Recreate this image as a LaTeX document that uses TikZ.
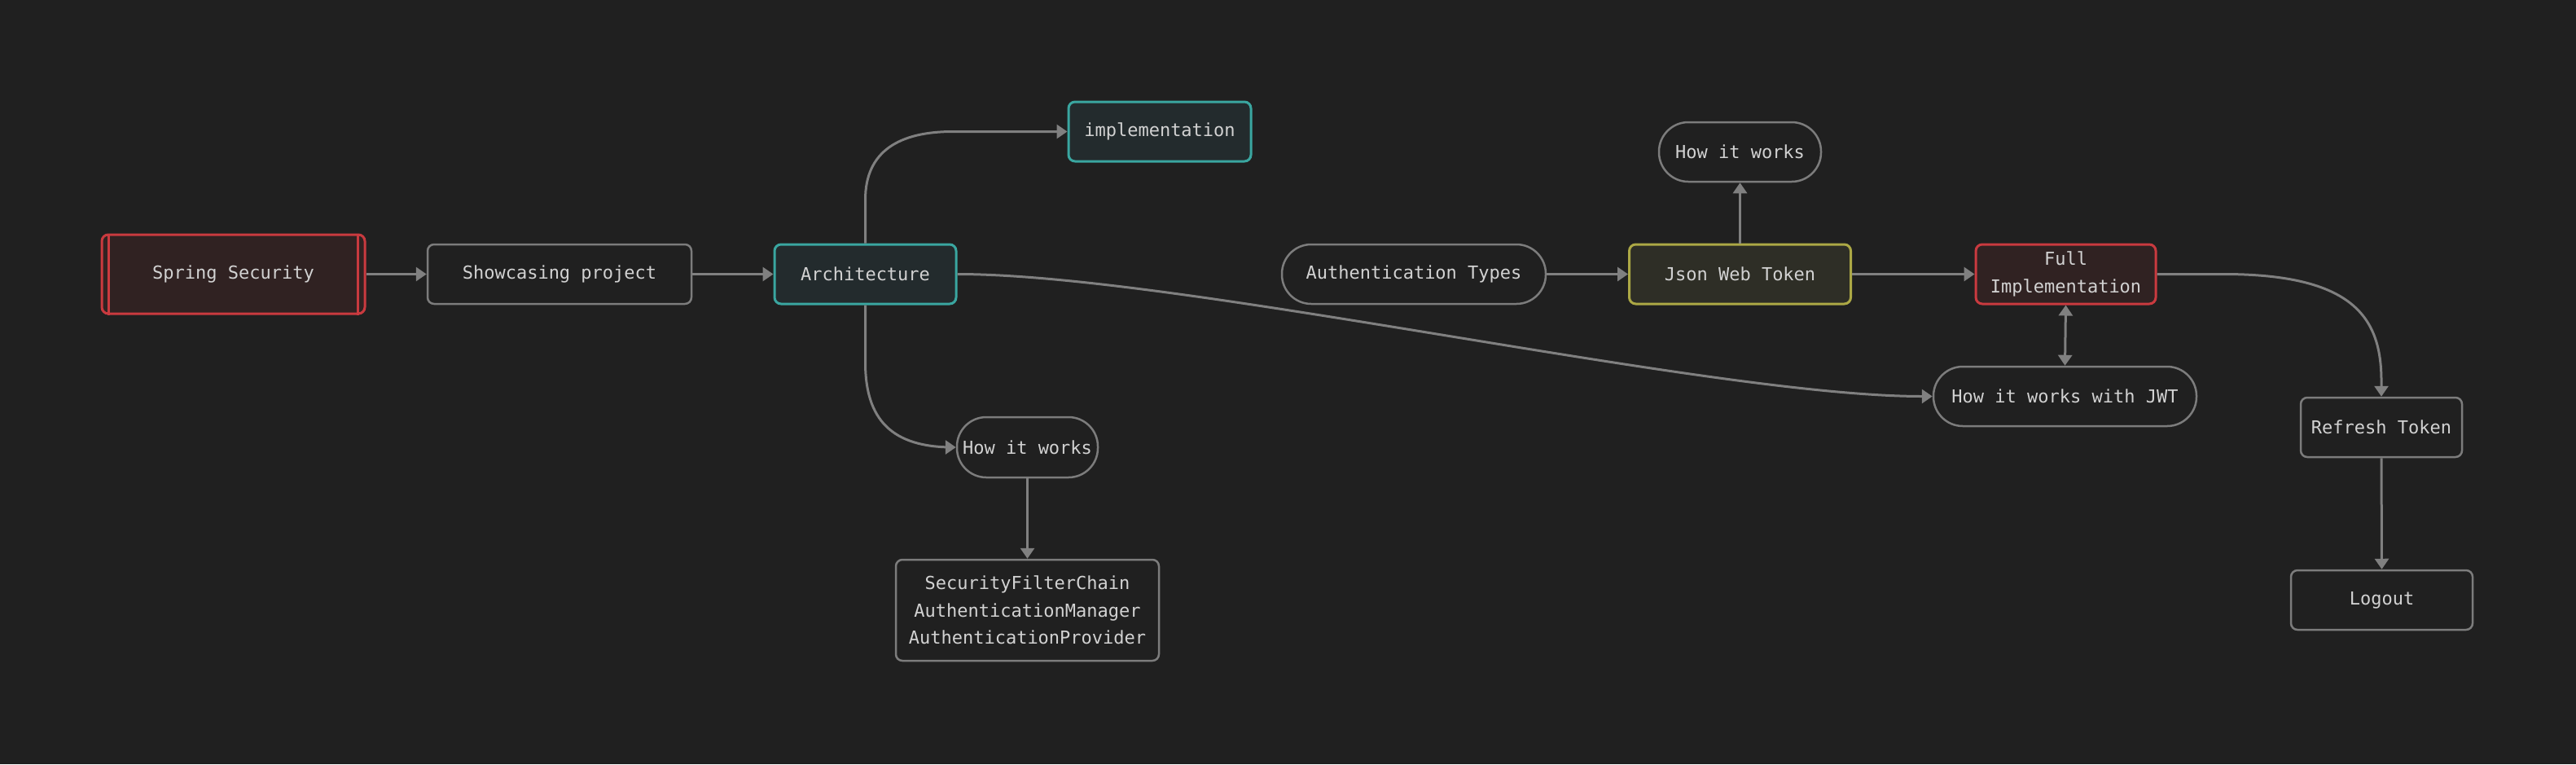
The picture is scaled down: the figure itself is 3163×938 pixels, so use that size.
\documentclass[tikz,border=0pt]{standalone}
\usepackage{fontspec}
\newfontfamily\monofont{DejaVu Sans Mono}
\usetikzlibrary{arrows.meta}
\definecolor{bgc}{HTML}{202020}
\definecolor{txt}{HTML}{D2D2D2}
\definecolor{edgec}{HTML}{808080}
\definecolor{plainb}{HTML}{7C7C7C}
\definecolor{redb}{HTML}{C93A3F}
\definecolor{redf}{HTML}{302222}
\definecolor{tealb}{HTML}{3AA6A0}
\definecolor{tealf}{HTML}{232B2D}
\definecolor{yelb}{HTML}{ACA845}
\definecolor{yelf}{HTML}{2E2E26}
\tikzset{
  base/.style={text=txt, font=\monofont\fontsize{22}{33.5}\selectfont, align=center, inner sep=0pt, rounded corners=8pt, line width=2.5pt},
  plainbox/.style={base, draw=plainb, fill=bgc},
  pill/.style={base, draw=plainb, fill=bgc, rounded corners=36pt},
  redbox/.style={base, draw=redb, fill=redf, line width=3pt},
  tealbox/.style={base, draw=tealb, fill=tealf, line width=3pt},
  yelbox/.style={base, draw=yelb, fill=yelf, line width=3pt},
  conn/.style={draw=edgec, line width=3pt, -{Triangle[length=13pt,width=17pt]}},
  conn2/.style={draw=edgec, line width=3pt, {Triangle[length=13pt,width=17pt]}-{Triangle[length=13pt,width=17pt]}}
}
\begin{document}
\begin{tikzpicture}[x=1pt,y=-1pt]
\fill[bgc] (0,0) rectangle (3163,938);
\useasboundingbox (0,0) rectangle (3163,938);

\node[redbox, minimum width=323pt, minimum height=97pt] (spring) at (286.5,336.5) {Spring Security};
\draw[redb, line width=3pt] ([xshift=10pt]spring.north west) -- ([xshift=10pt]spring.south west);
\draw[redb, line width=3pt] ([xshift=-10pt]spring.north east) -- ([xshift=-10pt]spring.south east);

\node[plainbox, minimum width=324pt, minimum height=73pt] (show) at (687,336.5) {Showcasing project};
\node[tealbox, minimum width=223pt, minimum height=73pt] (arch) at (1062.5,336.5) {Architecture};
\node[tealbox, minimum width=224pt, minimum height=73pt] (impl) at (1424,161.5) {implementation};
\node[pill, minimum width=173pt, minimum height=74pt] (how1) at (1261.5,549) {How it works};
\node[plainbox, minimum width=323pt, minimum height=124pt] (sfc) at (1261.5,749) {SecurityFilterChain\\AuthenticationManager\\AuthenticationProvider};
\node[pill, minimum width=324pt, minimum height=73pt] (auth) at (1736,336.5) {Authentication Types};
\node[pill, minimum width=199pt, minimum height=73pt] (how2) at (2136.5,186.5) {How it works};
\node[yelbox, minimum width=272pt, minimum height=73pt] (jwt) at (2136.5,336.5) {Json Web Token};
\node[redbox, minimum width=221pt, minimum height=73pt] (full) at (2536.5,336.5) {Full\\Implementation};
\node[pill, minimum width=323pt, minimum height=73pt] (howjwt) at (2535.5,486.5) {How it works with JWT};
\node[plainbox, minimum width=198pt, minimum height=73pt] (refresh) at (2924,524.5) {Refresh Token};
\node[plainbox, minimum width=223pt, minimum height=73pt] (logout) at (2924.5,736.5) {Logout};

\coordinate (a1) at (1062.5,245);
\coordinate (a2) at (1170,161.5);
\coordinate (b1) at (1062.5,445);
\coordinate (b2) at (1170,549);
\coordinate (c1) at (2730,336.5);
\coordinate (c2) at (2924,468);

\draw[conn] (spring) -- (show);
\draw[conn] (show) -- (arch);
\draw[conn] (arch.north) -- (a1) .. controls (1062.5,185) and (1105,161.5) .. (a2) -- (impl.west);
\draw[conn] (arch.south) -- (b1) .. controls (1062.5,515) and (1095,549) .. (b2) -- (how1.west);
\draw[conn] (arch.east) .. controls (1450,336.5) and (2100,486.5) .. (howjwt.west);
\draw[conn] (how1.south) -- (sfc.north);
\draw[conn] (auth) -- (jwt);
\draw[conn] (jwt.north) -- (how2.south);
\draw[conn] (jwt) -- (full);
\draw[conn2] (full.south) -- (howjwt.north);
\draw[conn] (full.east) -- (c1) .. controls (2890,336.5) and (2924,390) .. (c2) -- (refresh.north);
\draw[conn] (refresh.south) -- (logout.north);
\end{tikzpicture}
\end{document}
